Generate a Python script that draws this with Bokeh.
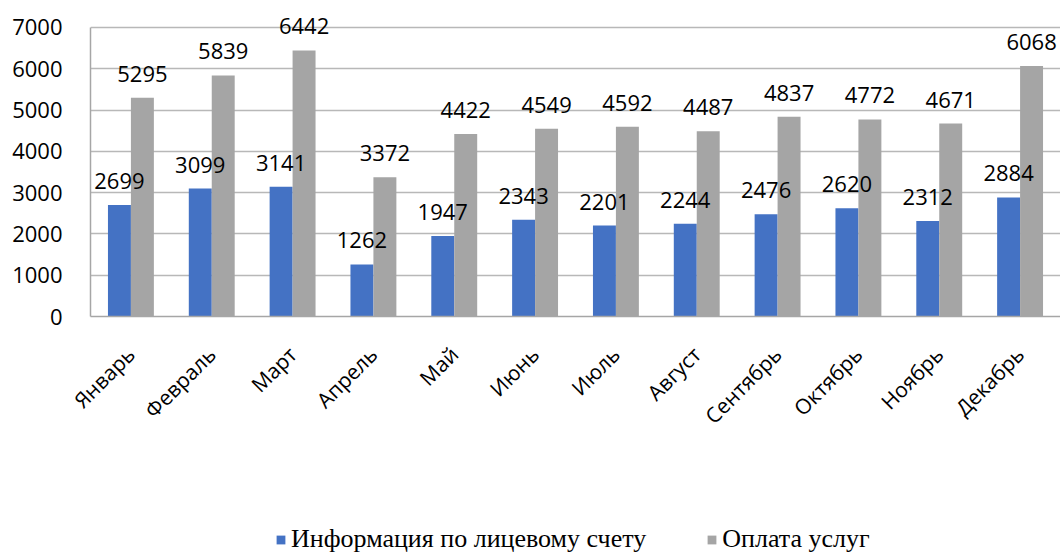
import math
from bokeh.plotting import figure
from bokeh.layouts import column
from bokeh.models import (ColumnDataSource, FactorRange, FixedTicker, LabelSet,
                          Legend, LegendItem, Range1d)
from bokeh.core.properties import value
from bokeh.transform import dodge
from bokeh.embed import file_html
from bokeh.resources import INLINE

months = ["Январь", "Февраль", "Март", "Апрель", "Май", "Июнь", "Июль",
          "Август", "Сентябрь", "Октябрь", "Ноябрь", "Декабрь"]
info_account = [2699, 3099, 3141, 1262, 1947, 2343, 2201, 2244, 2476, 2620, 2312, 2884]
payment = [5295, 5839, 6442, 3372, 4422, 4549, 4592, 4487, 4837, 4772, 4671, 6068]
series_names = ["Информация по лицевому счету", "Оплата услуг"]
y_ticks = [0, 1000, 2000, 3000, 4000, 5000, 6000, 7000]
colors = ["#4472C4", "#A5A5A5"]

src = ColumnDataSource(dict(
    month=months,
    a=info_account,
    b=payment,
    a_txt=[str(v) for v in info_account],
    b_txt=[str(v) for v in payment],
))

p = figure(x_range=FactorRange(*months, range_padding=0), y_range=(0, 7410),
           width=1060, height=446, output_backend="svg", toolbar_location=None,
           min_border_left=90, min_border_right=0, min_border_top=10,
           min_border_bottom=130)
p.outline_line_color = None
p.background_fill_color = "white"
p.border_fill_color = "white"

bw = 0.284
r1 = p.vbar(x=dodge("month", -bw / 2, range=p.x_range), top="a", width=bw,
            source=src, fill_color=colors[0], line_color=None)
r2 = p.vbar(x=dodge("month", bw / 2, range=p.x_range), top="b", width=bw,
            source=src, fill_color=colors[1], line_color=None)

lbl_font = "Open Sans"
for col, txt, off in (("a", "a_txt", -bw / 2), ("b", "b_txt", bw / 2)):
    ls = LabelSet(x=dodge("month", off, range=p.x_range), y=col, text=txt,
                  source=src, text_align="center", text_baseline="alphabetic",
                  y_offset=16, text_font=value(lbl_font), text_font_size=value("22px"),
                  text_color="#000000")
    p.add_layout(ls)

p.yaxis.ticker = FixedTicker(ticks=y_ticks)
p.yaxis.bounds = (0, 7000)
p.ygrid.ticker = FixedTicker(ticks=y_ticks)
p.ygrid.grid_line_color = "#b8b8b8"
p.ygrid.grid_line_width = 1.5
p.xgrid.grid_line_color = None

for ax in (p.xaxis, p.yaxis):
    ax.axis_line_color = "#a6a6a6"
    ax.axis_line_width = 1.5
    ax.major_tick_line_color = None
    ax.minor_tick_line_color = None
    ax.major_label_text_font = lbl_font
    ax.major_label_text_font_size = "22px"
    ax.major_label_text_color = "#000000"

p.yaxis.major_label_standoff = 22
p.xaxis.major_label_standoff = 28
p.xaxis.major_label_orientation = math.pi / 4
p.xaxis.major_label_text_font_size = "21px"

# legend strip below the chart (its bars lie outside the strip's view, only the legend shows)
p2 = figure(width=1060, height=108, output_backend="svg", toolbar_location=None,
            x_axis_type=None, y_axis_type=None,
            x_range=Range1d(0, 1), y_range=Range1d(0, 1),
            min_border_left=90, min_border_right=0, min_border_top=0,
            min_border_bottom=0)
p2.outline_line_color = None
p2.grid.visible = False
d1 = p2.vbar(x="a", top="a", width=1, source=src, fill_color=colors[0], line_color=None)
d2 = p2.vbar(x="b", top="b", width=1, source=src, fill_color=colors[1], line_color=None)

legend = Legend(items=[LegendItem(label=series_names[0], renderers=[d1]),
                       LegendItem(label=series_names[1], renderers=[d2])],
                location=(185, 0), orientation="horizontal",
                glyph_width=11, glyph_height=11, label_standoff=5, spacing=60,
                padding=0, margin=0, border_line_color=None,
                background_fill_alpha=0,
                label_text_font="Liberation Serif", label_text_font_size="26px",
                label_text_color="#000000")
p2.add_layout(legend, "center")

layout = column(p, p2, spacing=0)
open("out.html", "w").write(file_html(layout, INLINE))
